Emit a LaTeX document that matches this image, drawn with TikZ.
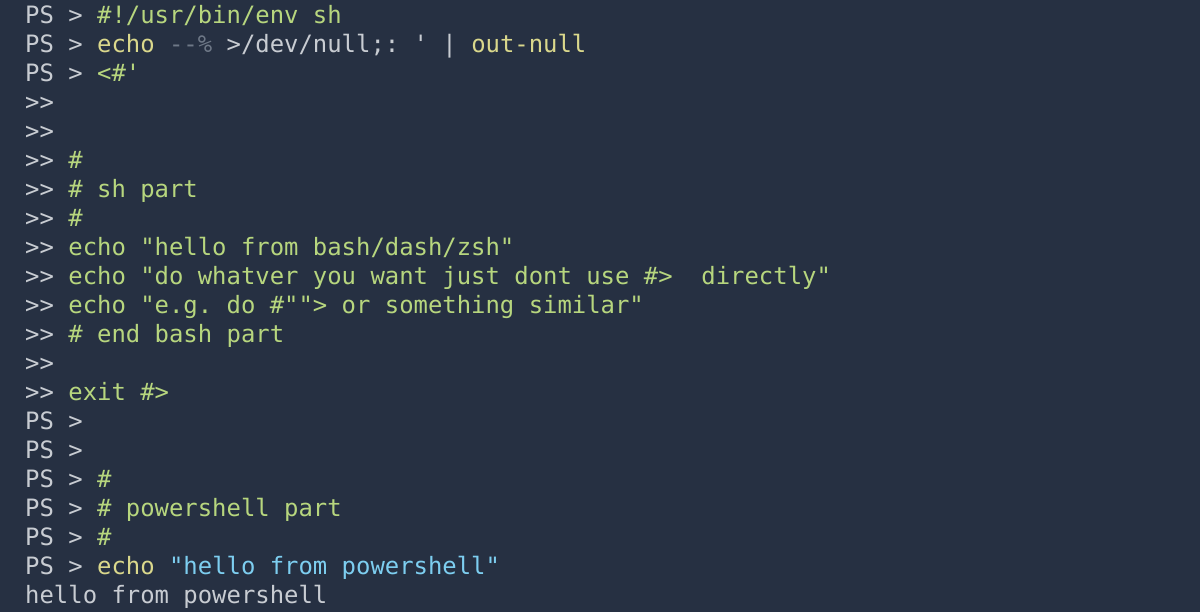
\documentclass[tikz,border=0pt]{standalone}
\usepackage{fontspec}
\setmonofont{DejaVu Sans Mono}
\usepackage{tikz}
\definecolor{termbg}{RGB}{38,48,66}
\definecolor{termgray}{RGB}{200,204,210}
\definecolor{termdim}{RGB}{110,120,135}
\definecolor{termgreen}{RGB}{183,214,126}
\definecolor{termyellow}{RGB}{218,216,140}
\definecolor{termcyan}{RGB}{125,206,240}
\tikzstyle{line} = [anchor=base west, inner sep=0pt, font=\fontsize{23.9}{29}\ttfamily, text=termgray]
\newcommand{\cg}[1]{\textcolor{termgreen}{#1}}
\newcommand{\cy}[1]{\textcolor{termyellow}{#1}}
\newcommand{\cc}[1]{\textcolor{termcyan}{#1}}
\begin{document}
\begin{tikzpicture}[x=1pt, y=1pt]
\fill[termbg] (0,0) rectangle (1200,612);
\useasboundingbox (0,0) rectangle (1200,612);
% shell session, one node per line
\node (l1) [line] at (25,588) {PS > \cg{\#!/usr/bin/env sh}};
\node (l2) [line] at (25,559) {PS > \cy{echo} \textcolor{termdim}{-{}-\%} >/dev/null;: ' | \cy{out-null}};
\node (l3) [line] at (25,530) {PS > \cg{<\#'}};
\node (l4) [line] at (25,501) {>>};
\node (l5) [line] at (25,472) {>>};
\node (l6) [line] at (25,443) {>> \cg{\#}};
\node (l7) [line] at (25,414) {>> \cg{\# sh part}};
\node (l8) [line] at (25,385) {>> \cg{\#}};
\node (l9) [line] at (25,356) {>> \cg{echo "hello from bash/dash/zsh"}};
\node (l10) [line] at (25,327) {>> \cg{echo "do whatver you want just dont use \#>\ \ directly"}};
\node (l11) [line] at (25,298) {>> \cg{echo "e.g. do \#""> or something similar"}};
\node (l12) [line] at (25,269) {>> \cg{\# end bash part}};
\node (l13) [line] at (25,240) {>>};
\node (l14) [line] at (25,211) {>> \cg{exit \#>}};
\node (l15) [line] at (25,182) {PS >};
\node (l16) [line] at (25,153) {PS >};
\node (l17) [line] at (25,124) {PS > \cg{\#}};
\node (l18) [line] at (25,95) {PS > \cg{\# powershell part}};
\node (l19) [line] at (25,66) {PS > \cg{\#}};
\node (l20) [line] at (25,37) {PS > \cy{echo} \cc{"hello from powershell"}};
\node (l21) [line] at (25,8) {hello from powershell};
\end{tikzpicture}
\end{document}
